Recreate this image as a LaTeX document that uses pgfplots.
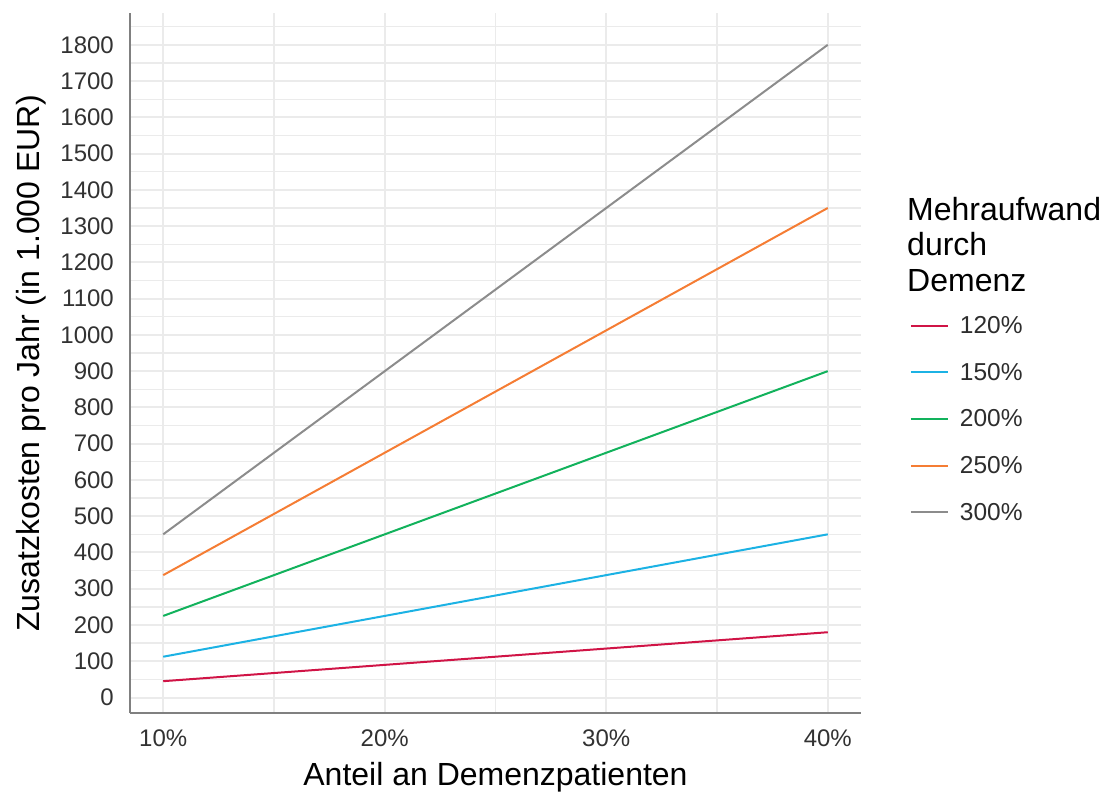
\documentclass[border=0pt]{standalone}
\usepackage{fontspec}
\setmainfont{Liberation Sans}
\usepackage{pgfplots}
\pgfplotsset{compat=1.18}
\definecolor{cRed}{RGB}{208,20,70}
\definecolor{cBlue}{RGB}{28,178,228}
\definecolor{cGreen}{RGB}{18,178,92}
\definecolor{cOrange}{RGB}{245,125,52}
\definecolor{cGray}{RGB}{140,140,140}
\definecolor{gridc}{RGB}{235,235,235}
\definecolor{axc}{RGB}{128,128,128}
\definecolor{tickc}{RGB}{50,50,50}
\definecolor{legc}{RGB}{45,45,45}
\begin{document}
\begin{tikzpicture}
\begin{axis}[
  scale only axis, width=731pt, height=700pt,
  xmin=8.5, xmax=41.5, ymin=-42.75, ymax=1887.75,
  xtick={10,20,30,40}, xticklabels={10\%,20\%,30\%,40\%},
  minor xtick={15,25,35},
  ytick={0,100,...,1800}, minor ytick={50,150,...,1850},
  grid=both,
  major grid style={color=gridc, line width=2pt},
  minor grid style={color=gridc, line width=1.3pt},
  axis x line*=bottom, axis y line*=left,
  axis line style={color=axc, line width=1.6pt},
  major tick length=0pt, minor tick length=0pt,
  /pgf/number format/1000 sep={},
  /pgf/number format/assume math mode=true,
  xticklabel style={font=\fontsize{24}{28}\selectfont, text=tickc, inner sep=0pt, anchor=north, yshift=-17pt},
  yticklabel style={font=\fontsize{24}{28}\selectfont, text=tickc, inner sep=0pt, anchor=east, xshift=-16pt},
  legend style={draw=none, fill=none, inner sep=0pt, outer sep=0pt,
    at={(rel axis cs:1.067,0.5664)}, anchor=north west,
    font=\fontsize{24.5}{28}\selectfont, text=legc, row sep=28pt,
    nodes={inner sep=0pt}},
  legend cell align=left,
  legend image code/.code={\draw[#1] (0pt,0pt) -- (37pt,0pt); \path (48pt,0pt);},
  every axis plot/.append style={line width=2pt},
]
\addplot[cRed] coordinates {(10,45) (20,90) (30,135) (40,180)};
\addlegendentry{120\%}
\addplot[cBlue] coordinates {(10,112.5) (20,225) (30,337.5) (40,450)};
\addlegendentry{150\%}
\addplot[cGreen] coordinates {(10,225) (20,450) (30,675) (40,900)};
\addlegendentry{200\%}
\addplot[cOrange] coordinates {(10,337.5) (20,675) (30,1012.5) (40,1350)};
\addlegendentry{250\%}
\addplot[cGray] coordinates {(10,450) (20,900) (30,1350) (40,1800)};
\addlegendentry{300\%}
\coordinate (LL) at (rel axis cs:0,0);
\coordinate (UR) at (rel axis cs:1,1);
\coordinate (ML) at (rel axis cs:0,0.5);
\coordinate (BM) at (rel axis cs:0.5,0);
\end{axis}
\node[anchor=base, inner sep=0pt, font=\fontsize{32}{38}\selectfont] at ([yshift=-72.5pt]BM) {Anteil an Demenzpatienten};
\node[anchor=base, rotate=90, inner sep=0pt, font=\fontsize{32}{38}\selectfont] at ([xshift=-90.5pt]ML) {Zusatzkosten pro Jahr (in 1.000 EUR)};
\node[anchor=north west, align=left, inner sep=0pt, font=\fontsize{32}{35.5}\selectfont] at ([xshift=777pt,yshift=516pt]LL) {Mehraufwand\\durch\\Demenz};
\path ([xshift=-130pt,yshift=-80pt]LL) rectangle ([xshift=243pt,yshift=13pt]UR);
\end{tikzpicture}
\end{document}
